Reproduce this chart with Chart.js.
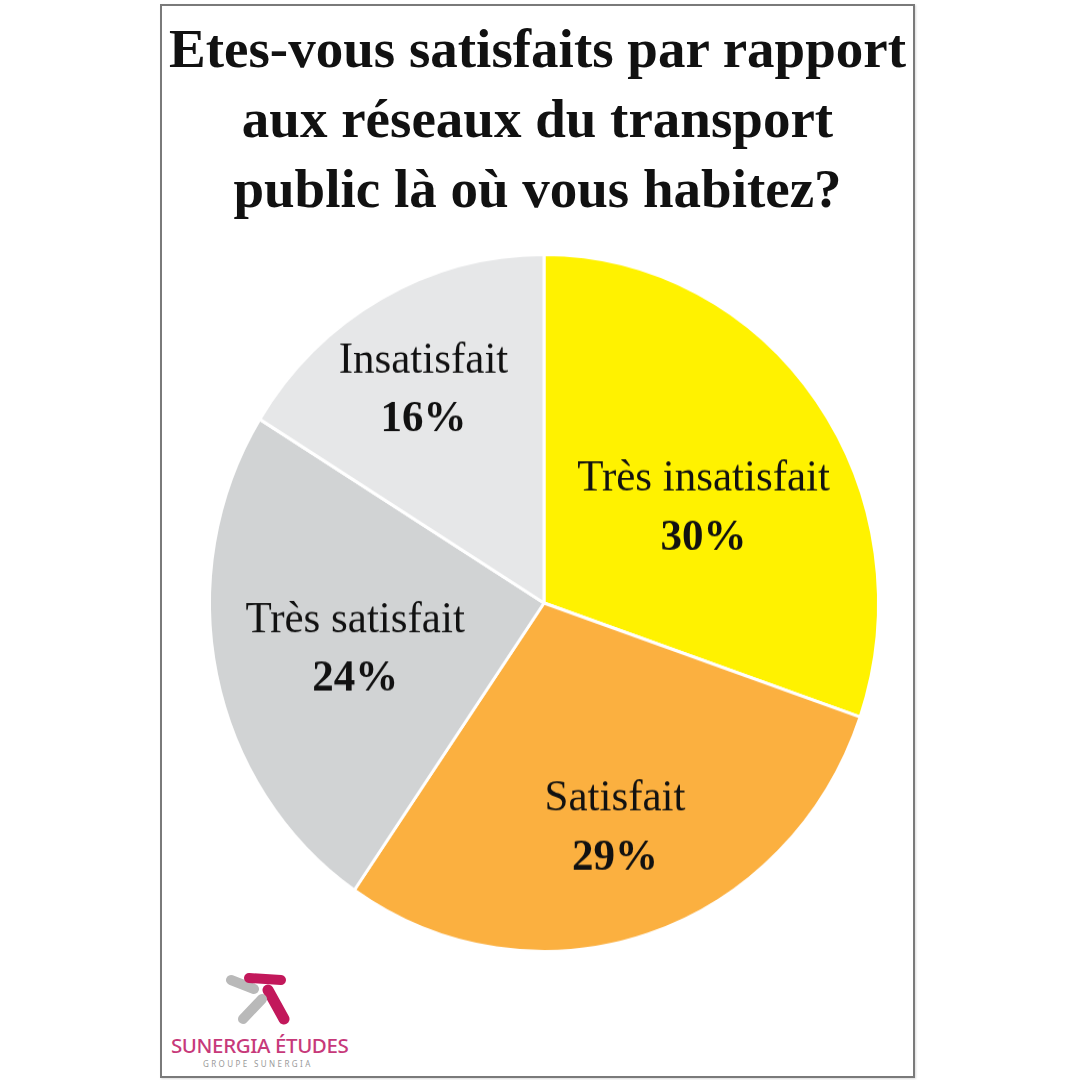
<!DOCTYPE html>
<html lang="fr">
<head>
<meta charset="utf-8">
<title>Transport public - satisfaction</title>
<script src="https://cdn.jsdelivr.net/npm/chart.js@4/dist/chart.umd.min.js"></script>
<style>
  html, body { margin: 0; padding: 0; background: #fff; }
  body { width: 1080px; height: 1080px; position: relative; overflow: hidden; }
  #frame {
    position: absolute; left: 160px; top: 4px; width: 751px; height: 1070px;
    border: 2px solid #7a7a7a; box-shadow: 1px 1px 2px rgba(0,0,0,0.15);
  }
  #title {
    position: absolute; left: 160px; top: 14px; width: 755px;
    font: bold 55px "Liberation Serif", "Times New Roman", serif;
    line-height: 70px; color: #111; text-align: center;
  }
  #title div { white-space: nowrap; }
  #pie {
    position: absolute; left: 193.5px; top: 252.5px;
    transform: scaleY(1.042); transform-origin: 50% 50%;
  }
  #logo { position: absolute; left: 168px; top: 968px; }
  #brand {
    position: absolute; left: 171px; top: 1031px;
    font: 500 20.5px "Noto Sans", sans-serif; color: #c7397a; letter-spacing: -0.4px;
  }
  #group {
    position: absolute; left: 203px; top: 1058px;
    font: 8px "Noto Sans", sans-serif; color: #9a9a9a; letter-spacing: 2.4px;
  }
</style>
</head>
<body>
<div id="frame"></div>
<div id="title">
  <div>Etes-vous satisfaits par rapport</div>
  <div>aux réseaux du transport</div>
  <div>public là où vous habitez?</div>
</div>
<canvas id="pie" width="700" height="700"></canvas>
<svg id="logo" width="140" height="60" viewBox="0 0 140 60">
  <line x1="63" y1="12" x2="86" y2="21" stroke="#b9b9b9" stroke-width="10" stroke-linecap="round"/>
  <line x1="81" y1="10" x2="113" y2="12" stroke="#c2185b" stroke-width="10" stroke-linecap="round"/>
  <line x1="100" y1="22" x2="116" y2="51" stroke="#c2185b" stroke-width="11" stroke-linecap="round"/>
  <line x1="94" y1="31" x2="75" y2="51" stroke="#b9b9b9" stroke-width="10" stroke-linecap="round"/>
</svg>
<div id="brand">SUNERGIA ÉTUDES</div>
<div id="group">GROUPE SUNERGIA</div>

<script>
const categories = ['Très insatisfait', 'Satisfait', 'Très satisfait', 'Insatisfait'];
const values = [30, 29, 24, 16];
const sliceColors = ['#fff200', '#fbb040', '#d1d3d4', '#e6e7e8'];

// placement des libellés : fraction du rayon et décalage d'angle (degrés)
const labelRadius = [0.55, 0.68, 0.58, 0.71];
const labelAngleShift = [5.6, 0, -1.4, -1.4];

const sliceLabels = {
    id: 'sliceLabels',
    afterDatasetsDraw(chart) {
        const ctx = chart.ctx;
        const arcs = chart.getDatasetMeta(0).data;
        ctx.save();
        ctx.fillStyle = '#111';
        ctx.textAlign = 'center';
        ctx.textBaseline = 'middle';
        arcs.forEach((arc, i) => {
            const mid = (arc.startAngle + arc.endAngle) / 2 + labelAngleShift[i] * Math.PI / 180;
            const r = arc.outerRadius * labelRadius[i];
            const x = arc.x + Math.cos(mid) * r;
            const y = arc.y + Math.sin(mid) * r;
            ctx.font = '43px "Liberation Serif", "Times New Roman", serif';
            ctx.fillText(categories[i], x, y - 28);
            ctx.font = 'bold 43px "Liberation Serif", "Times New Roman", serif';
            ctx.fillText(values[i] + '%', x, y + 29);
        });
        ctx.restore();
    }
};

new Chart(document.getElementById('pie'), {
    type: 'pie',
    data: {
        labels: categories,
        datasets: [{
            data: values,
            backgroundColor: sliceColors,
            borderColor: '#ffffff',
            borderWidth: 3
        }]
    },
    options: {
        responsive: false,
        animation: false,
        layout: { padding: 14 },
        plugins: {
            legend: { display: false },
            tooltip: { enabled: false },
            title: { display: false }
        }
    },
    plugins: [sliceLabels]
});
</script>
</body>
</html>
